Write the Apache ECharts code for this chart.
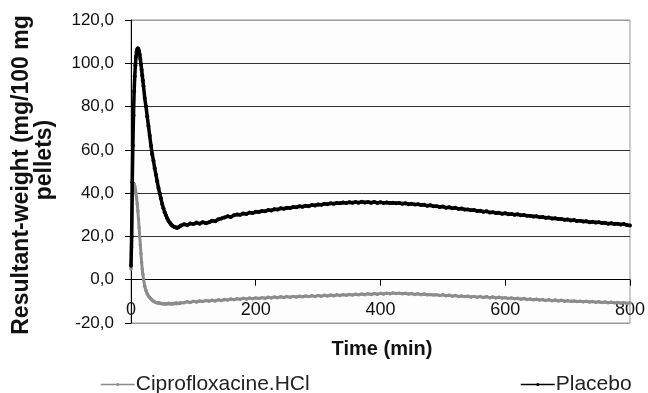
<!DOCTYPE html>
<html>
<head>
<meta charset="utf-8">
<script src="https://cdn.jsdelivr.net/npm/echarts@6/dist/echarts.min.js"></script>
<style>
  html, body { margin: 0; padding: 0; background: #fff; }
  #chart { width: 648px; height: 393px; }
</style>
</head>
<body>
<div id="chart"></div>
<script>
// time points (min)
const timeMin = [
  0, 1, 2, 3, 4, 5, 6, 7, 8, 9, 10, 11, 12, 13, 14, 15, 16, 17, 18, 19, 20,
  22, 24, 26, 28, 30, 32, 34, 36, 38, 40, 42, 44, 46, 48, 50, 52, 54, 56, 58,
  60, 62, 64, 66, 68, 70, 72, 74, 76, 78, 80,
  85, 90, 95, 100, 105, 110, 115, 120, 125, 130,
  135, 140, 145, 150, 155, 160, 165, 170, 175, 180,
  185, 190, 195, 200, 205, 210, 215, 220, 225, 230,
  235, 240, 245, 250, 255, 260, 265, 270, 275, 280,
  285, 290, 295, 300, 305, 310, 315, 320, 325, 330,
  335, 340, 345, 350, 355, 360, 365, 370, 375, 380,
  385, 390, 395, 400, 405, 410, 415, 420, 425, 430,
  435, 440, 445, 450, 455, 460, 465, 470, 475, 480,
  485, 490, 495, 500, 505, 510, 515, 520, 525, 530,
  535, 540, 545, 550, 555, 560, 565, 570, 575, 580,
  585, 590, 595, 600, 605, 610, 615, 620, 625, 630,
  635, 640, 645, 650, 655, 660, 665, 670, 675, 680,
  685, 690, 695, 700, 705, 710, 715, 720, 725, 730,
  735, 740, 745, 750, 755, 760, 765, 770, 775, 780,
  785, 790, 795, 800
];

const placebo = [
  6.5, 20, 45, 62, 76, 87, 94, 99, 103, 105.5, 106.5, 107, 106.5, 105.5, 104, 102, 99.5, 97, 94.5, 92, 89.5,
  84, 80, 75.5, 71, 66.5, 62, 58, 55, 51.5, 48.5, 45.5, 42.5, 40, 37.5, 35, 33, 31.2, 29.8, 28.4,
  27.3, 26.4, 25.6, 25, 24.6, 24.3, 24.1, 23.9, 24.2, 24.6, 25.0,
  25.6, 25.2, 26.0, 25.7, 26.4, 25.9, 26.6, 26.1, 26.5, 27.2,
  27.0, 27.9, 28.3, 28.8, 29.3, 29.0, 29.8, 30.1, 30.0, 30.6,
  30.4, 31.0, 30.8, 31.4, 31.3, 31.8, 31.6, 32.2, 32.0, 32.6,
  32.4, 33.0, 32.8, 33.3, 33.1, 33.6, 33.5, 33.9, 33.7, 34.2,
  34.0, 34.5, 34.3, 34.8, 34.6, 35.1, 34.9, 35.3, 35.1, 35.5,
  35.3, 35.7, 35.4, 35.8, 35.6, 35.9, 35.6, 36.0, 35.7, 35.9,
  35.6, 35.9, 35.5, 35.8, 35.5, 35.7, 35.4, 35.6, 35.3, 35.5,
  35.1, 35.3, 34.9, 35.1, 34.7, 34.9, 34.5, 34.6, 34.2, 34.4,
  33.9, 34.0, 33.6, 33.8, 33.3, 33.5, 33.0, 33.2, 32.7, 32.9,
  32.4, 32.5, 32.1, 32.2, 31.7, 31.9, 31.4, 31.6, 31.1, 31.2,
  30.8, 30.9, 30.5, 30.7, 30.3, 30.4, 30.0, 30.2, 29.8, 29.9,
  29.5, 29.6, 29.2, 29.3, 28.9, 29.0, 28.6, 28.7, 28.3, 28.4,
  28.0, 28.1, 27.7, 27.8, 27.4, 27.6, 27.1, 27.3, 26.9, 27.0,
  26.6, 26.8, 26.4, 26.6, 26.2, 26.3, 25.9, 26.1, 25.7, 25.9,
  25.5, 25.7, 25.3, 25.1
];

const cipro = [
  5, 15, 32, 42, 44.5, 44.2, 43.2, 41.8, 40, 37.8, 35, 31.8, 28, 24, 20, 16, 12, 8, 5, 2.5, 0.5,
  -3, -5, -6.5, -7.5, -8.2, -8.9, -9.5, -9.9, -10.3, -10.5, -10.8, -10.7, -11.0, -10.9, -11.2, -11.0, -11.3, -11.1, -11.2,
  -10.9, -11.2, -11.0, -11.3, -11.0, -11.1, -10.8, -11.1, -10.9, -11.0, -10.7,
  -10.6, -10.2, -10.5, -10.0, -10.3, -9.8, -10.1, -9.6, -9.9, -9.5,
  -9.8, -9.3, -9.6, -9.1, -9.4, -8.9, -9.2, -8.8, -9.0, -8.6,
  -8.9, -8.5, -8.8, -8.4, -8.7, -8.3, -8.6, -8.1, -8.4, -8.0,
  -8.3, -7.9, -8.2, -7.8, -8.1, -7.7, -8.0, -7.6, -7.9, -7.5,
  -7.8, -7.4, -7.7, -7.3, -7.6, -7.2, -7.5, -7.1, -7.4, -7.0,
  -7.3, -6.9, -7.2, -6.8, -7.1, -6.7, -7.0, -6.6, -6.9, -6.5,
  -6.8, -6.4, -6.7, -6.3, -6.6, -6.2, -6.5, -6.1, -6.4, -6.2,
  -6.5, -6.3, -6.6, -6.4, -6.8, -6.5, -6.9, -6.6, -7.0, -6.8,
  -7.1, -6.9, -7.3, -7.0, -7.4, -7.2, -7.6, -7.3, -7.7, -7.5,
  -7.8, -7.6, -8.0, -7.7, -8.1, -7.8, -8.2, -7.9, -8.3, -8.0,
  -8.4, -8.1, -8.5, -8.3, -8.7, -8.4, -8.8, -8.6, -9.0, -8.7,
  -9.1, -8.9, -9.3, -9.0, -9.4, -9.2, -9.6, -9.3, -9.7, -9.4,
  -9.8, -9.5, -9.9, -9.7, -10.0, -9.8, -10.1, -9.9, -10.2, -10.0,
  -10.3, -10.1, -10.4, -10.2, -10.5, -10.3, -10.6, -10.4, -10.7, -10.5,
  -10.8, -10.6, -10.9, -10.7
];

const seriesNames = ["Ciprofloxacine.HCl", "Placebo"];
const yTitle = ["Resultant-weight (mg/100 mg", "pellets)"];
const xTitle = "Time (min)";

const FONT = '"Liberation Sans", Arial, sans-serif';
const GRID_DARK = "#333";
const BORDER = "#9a9a9a";

// plot box (px) and y range, used to lift the x axis up to y = 0
const GRID_TOP = 20, GRID_BOTTOM = 70, CHART_H = 393;
const Y_MIN = -20, Y_MAX = 120;
const zeroOffset = -((0 - Y_MIN) / (Y_MAX - Y_MIN)) * (CHART_H - GRID_TOP - GRID_BOTTOM);

const pairs = (vals) => timeMin.map((t, i) => [t, vals[i]]);

const chart = echarts.init(document.getElementById("chart"), null, { renderer: "canvas" });

const legendBase = {
  top: 369,
  itemWidth: 34,
  itemHeight: 4,
  itemGap: 4,
  lineStyle: { width: 1.5 },
  textStyle: { fontSize: 21, fontFamily: FONT, color: "#222", padding: [0, 0, 0, -4] },
};

chart.setOption({
  animation: false,
  backgroundColor: "#fff",
  grid: {
    left: 131,
    right: 15,
    top: GRID_TOP,
    bottom: GRID_BOTTOM,
    show: true,
    borderColor: BORDER,
    borderWidth: 1,
    backgroundColor: "#fdfdfd",
  },
  // two legends so each entry sits where the picture has it
  legend: [
    Object.assign({ data: [seriesNames[0]], left: 95 }, legendBase),
    Object.assign({ data: [seriesNames[1]], left: 515 }, legendBase),
  ],
  xAxis: {
    type: "value",
    min: 0,
    max: 800,
    interval: 200,
    position: "bottom",
    offset: zeroOffset,
    axisLine: { onZero: false, lineStyle: { color: "#000", width: 1 } },
    axisTick: { show: true, length: 6, lineStyle: { color: "#000" } },
    axisLabel: { fontSize: 18, fontFamily: FONT, color: "#111", margin: 21 },
    splitLine: { show: false },
  },
  yAxis: {
    type: "value",
    min: Y_MIN,
    max: Y_MAX,
    interval: 20,
    axisLine: { show: true, onZero: false, lineStyle: { color: "#000", width: 1 } },
    axisTick: { show: true, length: 6, lineStyle: { color: "#000" } },
    axisLabel: {
      fontSize: 17,
      fontFamily: FONT,
      color: "#111",
      margin: 17,
      formatter: (v) => v.toFixed(1).replace(".", ","),
    },
    splitLine: {
      show: true,
      lineStyle: {
        color: [BORDER, GRID_DARK, GRID_DARK, GRID_DARK, GRID_DARK, GRID_DARK, GRID_DARK, BORDER],
        width: 1,
      },
    },
  },
  graphic: [
    {
      type: "text",
      x: 22,
      y: 175,
      rotation: Math.PI / 2,
      style: {
        text: yTitle[0],
        font: "bold 23px " + FONT,
        fill: "#111",
        align: "center",
        verticalAlign: "middle",
      },
    },
    {
      type: "text",
      x: 45,
      y: 160,
      rotation: Math.PI / 2,
      style: {
        text: yTitle[1],
        font: "bold 23px " + FONT,
        fill: "#111",
        align: "center",
        verticalAlign: "middle",
      },
    },
    {
      type: "text",
      x: 382,
      y: 349,
      style: {
        text: xTitle,
        font: "bold 20px " + FONT,
        fill: "#111",
        align: "center",
        verticalAlign: "middle",
      },
    },
  ],
  series: [
    {
      name: seriesNames[0],
      type: "line",
      data: pairs(cipro),
      symbol: "circle",
      symbolSize: 3.5,
      showSymbol: true,
      color: "#8c8c8c",
      lineStyle: { color: "#8c8c8c", width: 3 },
      itemStyle: { color: "#8c8c8c" },
      z: 3,
    },
    {
      name: seriesNames[1],
      type: "line",
      data: pairs(placebo),
      symbol: "circle",
      symbolSize: 4,
      showSymbol: true,
      color: "#000",
      lineStyle: { color: "#000", width: 3.5 },
      itemStyle: { color: "#000" },
      z: 4,
    },
  ],
});
</script>
</body>
</html>
